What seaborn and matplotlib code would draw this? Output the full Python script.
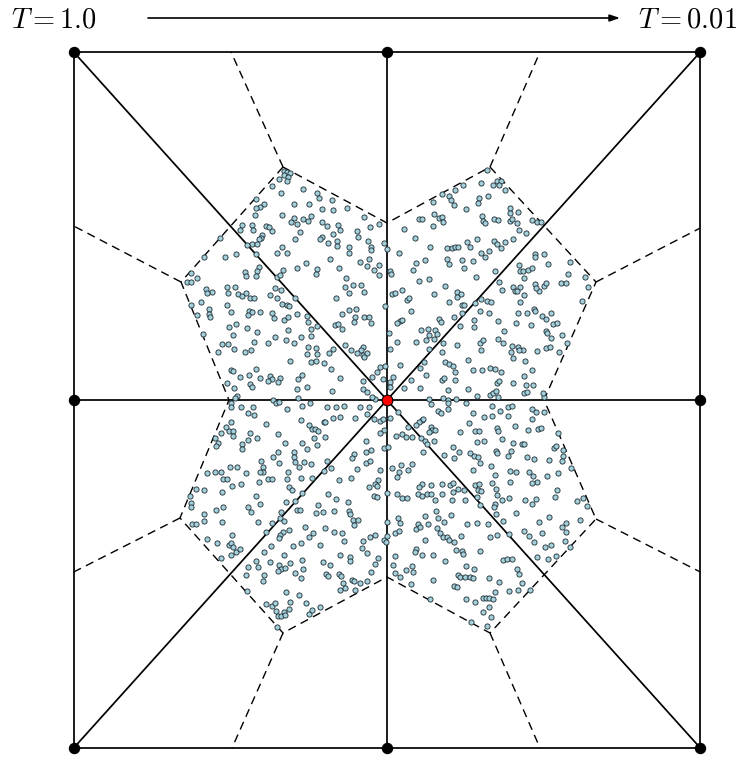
import numpy as np
import pandas as pd
import matplotlib
matplotlib.use("Agg")
import matplotlib.pyplot as plt
import seaborn as sns

sns.set_theme(style="white")
plt.rcParams["mathtext.fontset"] = "cm"

# ---------------------------------------------------------------------------
# Geometry of the domain (grid units, center site at the origin)
# ---------------------------------------------------------------------------
HALF_W, HALF_H = 940, 1044
site_x = [-940, 0, 940, -940, 940, -940, 0, 940]
site_y = [1044, 1044, 1044, 0, 0, -1044, -1044, -1044]
center_x, center_y = 0, 0

# closed cell boundary around the center site
cell_x = [-312, -618, -474, -621, -312, 0, 309, 627, 471, 627, 309, 0]
cell_y = [699, 354, 0, -354, -699, -531, -699, -357, 0, 354, 699, 531]
# rays from the outer cell corners to the frame
ray_from = [(-312, 699), (309, 699), (-618, 354), (627, 354),
            (-621, -354), (627, -357), (-312, -699), (309, -699)]
ray_to = [(-468, 1044), (459, 1044), (-940, 522), (940, 516),
          (-940, -516), (940, -516), (-465, -1044), (459, -1044)]

# ---------------------------------------------------------------------------
# Sampled positions, stored per quadrant block; each block has its own origin
# (x = u + dx, y = dy - v)
# ---------------------------------------------------------------------------
nw_uv = [
    372,62, 381,66, 391,68, 371,75, 383,80, 357,88, 380,93,
    337,108, 430,118, 470,128, 364,128,
    287,148, 476,145, 517,149, 403,162, 448,161, 313,162, 299,170, 289,173, 487,176, 519,180, 560,175,
    285,195, 366,196, 403,204, 613,200, 392,215, 410,221, 428,208, 443,213, 454,197, 487,217, 533,224, 658,221,
    247,226, 277,225, 318,228, 326,231, 241,240, 279,240, 335,243, 500,228, 539,240, 630,230, 592,242, 420,245, 306,254, 520,253,
    180,263, 302,263, 297,268, 404,268, 487,260, 481,268, 594,262, 624,272, 532,272, 672,280, 504,280, 275,282, 262,286, 290,283, 566,290, 531,287, 633,290, 367,292, 681,298, 633,300,
    131,320, 194,322, 229,313, 287,311, 350,310, 381,310, 567,310, 510,327, 600,337, 628,328,
    437,340, 412,355, 471,357, 538,355, 296,352, 290,362, 255,365, 622,347, 656,345, 643,360, 370,360, 93,370, 467,372, 690,362, 656,374, 258,378, 287,378, 350,380, 360,374, 111,383, 693,373, 558,385,
    82,397, 92,395, 200,412, 225,411, 344,415, 580,405, 604,405, 556,410, 363,420, 138,418,
    156,425, 140,428, 205,430, 235,433, 247,437, 258,430, 612,425, 566,428, 330,435, 270,445, 282,444, 351,444, 405,445, 527,443, 695,432,
    93,465, 124,457, 200,465, 365,462, 380,464, 388,468, 676,468, 148,476, 213,487, 268,482, 275,487, 301,487, 336,490, 410,493, 440,497, 146,492, 545,492, 566,480, 587,478, 111,496, 265,495,
    151,502, 343,505, 372,509, 385,502, 585,500, 612,502, 628,500, 443,515, 582,515, 632,518, 471,527, 525,525, 533,522, 262,535, 228,523, 207,530, 453,537, 547,537, 384,541,
    292,545, 686,550, 130,552, 218,555, 345,561, 422,560, 452,557, 377,570, 324,580, 282,577, 403,578,
    187,583, 203,582, 444,590, 469,593, 555,584, 520,596, 223,598, 173,605, 255,605, 272,600, 574,599, 608,592, 602,600, 592,608, 506,608, 470,612, 440,612, 608,615, 620,610, 612,620, 690,598,
    391,633, 453,637, 469,632, 493,640, 213,659, 287,657, 514,657, 661,652, 676,648, 650,665,
    218,664, 427,674, 241,680, 268,675, 329,677, 301,685, 337,687, 323,693, 359,683, 353,695, 414,688, 541,685, 635,682, 610,692, 668,688, 690,696, 202,698,
    269,702, 277,712, 223,713, 412,716, 441,710, 517,723, 609,717, 620,725, 230,738, 645,746, 637,742, 225,745, 338,750, 413,744,
]
ne_uv = [
    322,60, 351,93, 362,93, 340,104, 358,106, 375,121, 304,100, 250,105,
    186,133, 206,138, 224,121, 214,149, 160,155, 296,145, 325,138, 295,160, 222,165,
    259,177, 389,174, 413,186, 390,188, 162,192, 305,197, 178,205, 187,202, 116,207, 125,207, 190,216, 160,227, 308,213, 316,220, 343,208, 355,210, 389,212, 397,208, 410,218, 455,211, 470,215, 483,217,
    72,238, 418,240, 438,248, 105,264, 260,276, 291,266, 342,272, 352,282, 375,275, 399,268, 200,295, 215,293, 225,292, 235,292, 270,291, 149,292, 362,295,
    58,310, 303,308, 328,303, 315,320, 201,327, 247,330, 278,332, 135,330, 208,343, 107,338, 466,312, 464,322, 493,311, 570,335, 505,343, 418,345,
    98,360, 253,353, 346,362, 420,363, 429,362, 445,361, 457,354, 432,383, 565,373, 289,382, 148,388, 117,393, 616,381,
    356,397, 196,408, 400,410, 421,410, 405,424, 412,424, 466,403, 491,408, 497,400, 542,400, 557,398, 478,424, 469,414, 623,410, 65,420, 45,428, 162,433, 232,425, 242,431, 230,440, 365,420,
    80,450, 88,445, 208,457, 246,466, 253,466, 284,459, 302,448, 320,454, 332,455, 421,457, 432,435, 461,476, 466,482, 606,453, 92,482, 245,488, 299,484, 326,488,
    441,490, 415,488, 486,497, 513,488, 497,508, 222,502, 178,506, 183,515, 60,512, 67,510, 51,520, 240,527, 282,510, 355,513, 408,520, 452,524, 520,523, 532,520, 122,541, 143,537, 164,540, 282,530, 372,542, 498,543, 502,548, 547,555,
    107,577, 139,571, 147,556, 162,567, 170,552, 190,578, 230,584, 299,578, 308,570, 355,568, 370,578, 413,590, 396,588, 428,600, 417,600, 498,595, 509,590, 514,565, 537,605, 562,578, 51,575, 148,598, 303,600, 394,607, 472,603,
    187,607, 264,629, 196,636, 208,643, 218,648, 224,665, 131,637, 120,654, 61,645, 398,624, 434,634, 278,660, 307,660, 330,654, 345,656, 363,666, 455,660,
    137,675, 38,680, 92,690, 186,690, 193,685, 226,689, 431,677, 400,698, 352,700, 356,692, 120,713, 72,714, 205,720, 30,712,
    265,716, 292,738, 331,736, 340,728, 348,723, 353,740, 432,730, 440,727, 459,706, 437,706, 492,740, 490,730, 148,747, 188,745, 203,750, 229,746,
]
sw_uv = [
    213,40, 212,50, 244,52, 279,50, 347,38, 357,35, 382,57, 425,48, 449,38, 500,50, 528,50, 551,47, 601,52, 626,50,
    264,68, 281,76, 319,101, 423,90, 447,105, 455,117, 464,118, 474,124, 491,97, 496,97, 519,85, 541,80, 586,85, 622,72, 641,88, 661,92, 668,88, 672,120, 214,95, 197,112, 206,122, 218,122, 182,130, 218,137, 271,130, 263,150, 291,143, 354,133,
    165,145, 173,160, 167,167, 245,163, 247,178, 374,160, 426,160, 461,145, 471,164, 496,140, 617,152, 660,130, 673,173, 355,187, 340,200, 403,185, 442,178, 402,200, 405,215, 432,215, 454,221, 581,193, 577,205, 617,186, 633,180,
    303,214, 308,230, 309,245, 300,245, 357,218, 416,230, 502,214, 619,218, 631,213, 210,232, 230,230, 492,243, 514,233, 590,237, 660,241, 140,250, 166,247, 182,247, 258,249, 384,245, 189,267, 200,267, 297,276, 325,268, 336,268, 382,268, 422,263, 455,265, 538,271, 574,263, 655,270,
    644,283, 652,287, 626,290, 215,288, 244,283, 109,298, 133,301, 186,307, 388,290, 397,300, 505,313, 527,328, 565,335, 643,318, 652,321, 90,318, 289,319, 93,338, 93,350,
    379,337, 405,332, 300,342, 265,352, 273,366, 167,360, 190,352, 410,360, 420,360, 425,308, 473,346, 467,368, 490,365, 521,363, 567,363, 571,373, 131,372, 133,393, 364,365, 361,385, 373,393,
    95,403, 108,403, 185,397, 295,396, 337,398, 580,390, 594,390, 583,405, 388,421, 368,426, 359,435, 356,445, 318,425, 435,412, 460,428, 446,442, 494,413, 522,425, 547,430, 551,453, 217,436, 140,447, 172,458, 207,465, 213,460, 219,472, 229,486, 240,478, 214,495, 183,505, 480,466, 400,467, 424,460, 609,452, 629,441, 645,435, 673,450, 678,457, 680,437, 606,475, 622,490, 655,503, 645,522,
    334,468, 313,486, 373,496, 289,513, 294,530, 330,515, 356,526, 364,536, 354,544, 375,535, 389,520, 265,530, 257,555, 313,555, 309,572, 427,509, 430,538, 405,548, 422,563, 490,517, 510,524, 497,552, 503,557, 540,495, 569,500, 571,512, 536,552, 543,557, 549,578, 575,570, 582,573, 600,578, 620,572, 633,546, 541,600, 554,593, 584,601,
    261,604, 379,607, 416,614, 318,642, 335,648, 346,638, 390,637, 438,640, 480,650, 348,664, 353,677, 362,677, 371,667, 375,676, 388,657, 448,672, 455,660, 350,710,
]
se_uv = [
    152,43, 205,40, 258,40, 337,48, 383,50, 396,48, 457,58, 468,67, 493,67, 175,63, 183,68, 204,58, 278,68, 311,80, 337,78, 360,63, 385,77, 55,65, 30,85, 125,90, 130,88, 117,97, 109,104, 85,110, 268,100, 406,109, 456,88,
    154,110, 157,120, 148,127, 164,120, 163,153, 240,126, 286,122, 297,122, 350,113, 353,124, 443,120, 473,118, 484,115, 533,130, 48,137, 65,132, 78,140, 96,142, 122,143, 134,152, 290,155, 312,152, 367,148, 400,159, 425,162, 432,163,
    23,172, 128,186, 142,162, 218,172, 236,185, 270,190, 282,197, 294,200, 300,218, 191,196, 223,205, 347,182, 350,190, 393,183, 383,198, 440,202, 463,206, 507,211, 521,173, 528,169, 550,180, 548,197, 546,213,
    36,233, 56,245, 52,262, 63,225, 85,240, 97,223, 278,240, 334,227, 344,255, 389,244, 408,245, 448,247, 458,258, 470,276, 457,280, 500,258, 533,248, 572,233,
    126,283, 117,290, 154,286, 187,282, 210,285, 219,279, 235,298, 218,305, 252,300, 285,284, 296,283, 293,300, 302,303, 335,280, 348,298, 352,315, 365,330, 388,325, 389,275, 435,331, 455,342, 467,328, 530,300, 525,322, 590,333, 610,325, 620,347, 22,310, 50,313, 66,323, 80,323, 115,313, 126,318, 140,313, 154,311, 165,331, 187,313, 216,330, 255,330, 290,322,
    301,344, 344,342, 342,351, 348,372, 370,393, 409,370, 506,381, 546,410, 557,398, 601,390, 167,364, 134,378, 174,383, 212,376, 193,396, 260,403, 290,400, 325,403, 145,403, 115,401, 108,416, 120,412, 20,395,
    53,383, 61,400, 45,430, 57,423, 172,413, 181,428, 190,440, 200,440, 208,449, 223,456, 244,437, 134,450, 330,441, 350,436, 386,431, 432,423, 448,437, 461,456, 486,428, 477,396, 495,470, 514,464, 557,427, 556,453, 569,470,
    108,476, 106,487, 127,495, 159,496, 196,512, 229,481, 246,484, 248,491, 299,484, 471,500, 505,507, 527,497, 44,498, 40,525, 368,509, 381,508, 396,508, 412,536, 258,529, 281,537, 79,540, 96,527, 100,545, 45,550, 60,560,
    160,571, 234,555, 241,562, 254,562, 223,588, 232,592, 269,561, 280,565, 326,563, 356,577, 388,604, 415,600, 427,578, 449,599, 417,551, 94,581, 150,628, 257,628, 286,637, 310,623, 318,623, 327,625, 339,628, 346,606, 328,650, 310,667, 333,680, 272,695, 320,707,
]
block_origin = {"nw": (-681, 750), "ne": (-21, 750), "sw": (-681, 30), "se": (-21, 30)}
blocks = {"nw": nw_uv, "ne": ne_uv, "sw": sw_uv, "se": se_uv}

frames = []
for name, uv in blocks.items():
    arr = np.asarray(uv, dtype=float).reshape(-1, 2)
    dx, dy = block_origin[name]
    frames.append(pd.DataFrame({"x": arr[:, 0] + dx, "y": dy - arr[:, 1], "block": name}))
samples = pd.concat(frames, ignore_index=True)

label_start = r"$T{=}1.0$"
label_end = r"$T{=}0.01$"

# ---------------------------------------------------------------------------
# Figure
# ---------------------------------------------------------------------------
fig = plt.figure(figsize=(7.41, 7.57), dpi=100)
ax = fig.add_axes([0, 0, 1, 1])
ax.set_xlim(-1161, 1062)
ax.set_ylim(-1071, 1200)
ax.set_axis_off()

LW = 1.25
# frame
fx = [-HALF_W, HALF_W, HALF_W, -HALF_W, -HALF_W]
fy = [HALF_H, HALF_H, -HALF_H, -HALF_H, HALF_H]
ax.plot(fx, fy, color="black", lw=LW, zorder=2, solid_capstyle="butt")
# spokes from the center to every boundary site
for sx, sy in zip(site_x, site_y):
    ax.plot([center_x, sx], [center_y, sy], color="black", lw=LW, zorder=2)

# dashed cell boundary and rays
dash = (0, (6, 4))
ax.plot(cell_x + cell_x[:1], cell_y + cell_y[:1], color="black", lw=1.0,
        linestyle=dash, zorder=2)
for (x0, y0), (x1, y1) in zip(ray_from, ray_to):
    ax.plot([x0, x1], [y0, y1], color="black", lw=1.0, linestyle=dash, zorder=2)

# sampled positions
sns.scatterplot(data=samples, x="x", y="y", ax=ax, s=14, color="#a4d0dc",
                edgecolor="#1c2a30", linewidth=0.6, zorder=3, legend=False)

# boundary sites and center site
ax.scatter(site_x, site_y, s=52, color="black", zorder=4, clip_on=False)
ax.scatter([center_x], [center_y], s=60, color="#ff0000", edgecolor="black",
           linewidth=0.8, zorder=5)

# temperature schedule header
ax.text(-1128, 1119, label_start, fontsize=20.5, ha="left", va="baseline", color="black")
ax.text(1050, 1119, label_end, fontsize=20.5, ha="right", va="baseline", color="black")
ax.annotate("", xy=(699, 1146), xytext=(-717, 1146),
            arrowprops=dict(arrowstyle="-|>,head_length=0.5,head_width=0.17",
                            lw=1.2, color="black", mutation_scale=12,
                            shrinkA=0, shrinkB=0))

fig.savefig("out.png", dpi=100)
